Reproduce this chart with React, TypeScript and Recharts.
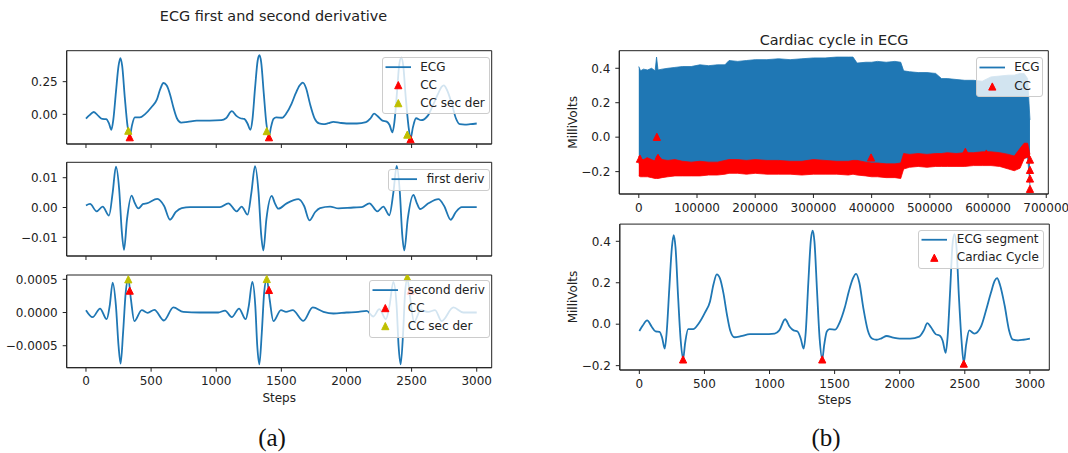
import React from 'react';
import { ComposedChart, Line, Area, Scatter, XAxis, YAxis, Legend, Label, ReferenceArea } from 'recharts';

// ---------------- DATA ----------------
// ECG segment (steps, millivolts)
const ecgX = [0,25,60,95,125,155,175,195,210,230,250,264,278,298,318,336,352,375,414,452,504,543,569,595,620,646,672,698,731,780,850,950,1040,1075,1120,1155,1185,1215,1240,1262,1278,1298,1318,1332,1345,1365,1385,1405,1420,1440,1461,1505,1540,1578,1610,1640,1665,1690,1720,1755,1790,1823,1860,1900,1950,2000,2080,2150,2185,2212,2240,2276,2309,2330,2353,2368,2388,2405,2420,2435,2455,2475,2492,2510,2534,2573,2625,2660,2700,2730,2748,2770,2806,2840,2870,2909,2950,3000];
const ecgY = [-0.033,-0.008,0.018,-0.012,-0.035,-0.037,-0.065,-0.118,-0.04,0.17,0.37,0.43,0.37,0.13,-0.08,-0.168,-0.09,-0.024,-0.024,0.0,0.056,0.11,0.19,0.24,0.22,0.15,0.05,-0.03,-0.063,-0.058,-0.048,-0.048,-0.045,-0.03,0.024,-0.012,-0.03,-0.035,-0.07,-0.118,-0.04,0.2,0.41,0.452,0.4,0.16,-0.07,-0.168,-0.1,-0.035,-0.024,-0.026,0.01,0.08,0.16,0.22,0.243,0.2,0.08,-0.03,-0.07,-0.075,-0.068,-0.057,-0.065,-0.07,-0.07,-0.06,-0.03,0.005,-0.015,-0.048,-0.056,-0.08,-0.138,-0.06,0.17,0.38,0.434,0.38,0.13,-0.08,-0.186,-0.1,-0.03,-0.045,-0.01,0.06,0.15,0.21,0.222,0.19,0.09,-0.03,-0.075,-0.078,-0.075,-0.07];

// first derivative
const d1X = [0,31,82,128,177,205,230,255,275,292,315,350,375,402,440,466,548,600,645,690,735,800,875,1029,1093,1157,1195,1241,1270,1298,1325,1345,1362,1385,1426,1450,1477,1541,1631,1675,1716,1760,1797,1874,1939,2053,2117,2176,2237,2283,2329,2360,2386,2410,2428,2444,2470,2514,2540,2565,2629,2706,2750,2800,2840,2885,3000];
const d1Y = [0.0007,0.0012,-0.0013,0.0003,-0.0027,0.005,0.0137,0.006,-0.008,-0.0142,-0.004,0.004,0.0015,-0.0003,0.0012,0.0014,0.0029,0.0005,-0.0041,-0.0015,-0.0002,0.0001,0.0001,0.0001,0.0014,-0.0013,0.0003,-0.0024,0.005,0.0139,0.005,-0.009,-0.0144,-0.004,0.0039,0.0015,-0.0004,0.0014,0.0028,0.0005,-0.0043,-0.0015,-0.0002,0.0003,-0.0003,0.0,0.0001,0.0014,-0.0013,0.0003,-0.0026,0.005,0.014,0.005,-0.009,-0.0144,-0.004,0.0042,0.0015,-0.0005,0.0014,0.0028,0.0005,-0.0041,-0.0015,0.0001,0.0001];

// second derivative
const d2X = [0,51,108,159,182,205,230,250,266,285,305,325,345,371,428,474,525,599,671,747,875,1016,1068,1119,1175,1226,1250,1277,1300,1315,1331,1350,1368,1388,1410,1439,1497,1536,1587,1669,1741,1823,1900,2000,2092,2155,2206,2252,2303,2330,2360,2385,2400,2416,2435,2450,2467,2490,2519,2570,2629,2680,2731,2821,2897,3000];
const d2Y = [0.000035,-0.00007,0.00006,-0.0001,0.0001,0.00045,0.0001,-0.0005,-0.00077,-0.0003,0.0003,0.00051,0.0002,-0.00013,0.000035,-0.000005,0.00004,-0.00012,0.000076,0.00001,0.0,0.0,0.00003,-0.00007,0.00006,-0.0001,0.0001,0.00046,0.0001,-0.0005,-0.00078,-0.0003,0.0003,0.00051,0.0002,-0.00013,0.000035,0.00001,0.000035,-0.000126,0.000076,0.00001,-0.000015,0.0,0.00001,0.000025,-0.00006,0.00005,-0.0001,0.0001,0.00046,0.0001,-0.0005,-0.00078,-0.0003,0.0003,0.00051,0.0002,-0.00014,0.000035,0.00001,0.000035,-0.00013,0.000076,0.0,0.0];

// cardiac cycle markers
const ccX = [336, 1405, 2492];
const ccEcgY = [-0.175, -0.175, -0.19];
const secX = [325, 1388, 2467];
const secEcgY = [-0.125, -0.128, -0.155];
const ccD2Y = [0.00033, 0.00034, 0.00033];
const secD2Y = [0.0005, 0.000505, 0.00053];
const cycleY = [-0.17, -0.17, -0.19];

// full recording (envelope of the dense ECG trace and of the CC marker band)
const fullX = [0,3000,8000,15000,22000,28000,30500,33000,40000,50000,62000,75000,90000,105000,120000,135000,148000,155000,170000,185000,200000,220000,240000,260000,280000,300000,320000,340000,360000,368000,375000,390000,400000,410000,425000,440000,450000,455000,465000,480000,495000,510000,520000,530000,545000,560000,575000,590000,605000,620000,635000,645000,655000,662000,668000,672000];
const ecgHi = [0.41,0.385,0.395,0.39,0.4,0.385,0.465,0.39,0.395,0.4,0.405,0.41,0.41,0.42,0.415,0.42,0.42,0.445,0.44,0.445,0.45,0.45,0.455,0.45,0.455,0.46,0.46,0.465,0.465,0.465,0.43,0.435,0.435,0.44,0.435,0.44,0.435,0.385,0.38,0.375,0.375,0.37,0.34,0.34,0.335,0.33,0.33,0.325,0.35,0.355,0.36,0.36,0.37,0.37,0.34,0.1];
const ecgLo = [-0.15,-0.17,-0.17,-0.17,-0.17,-0.17,-0.17,-0.17,-0.17,-0.17,-0.17,-0.17,-0.17,-0.17,-0.17,-0.17,-0.17,-0.17,-0.17,-0.17,-0.17,-0.17,-0.17,-0.17,-0.17,-0.17,-0.17,-0.17,-0.17,-0.17,-0.17,-0.17,-0.17,-0.17,-0.17,-0.17,-0.17,-0.15,-0.15,-0.15,-0.15,-0.15,-0.15,-0.15,-0.15,-0.15,-0.15,-0.15,-0.15,-0.15,-0.16,-0.17,-0.15,-0.12,-0.12,-0.28];
const ccHi = [-0.11,-0.13,-0.13,-0.12,-0.13,-0.14,-0.11,-0.105,-0.13,-0.135,-0.13,-0.14,-0.145,-0.14,-0.145,-0.145,-0.135,-0.13,-0.13,-0.135,-0.13,-0.135,-0.135,-0.14,-0.14,-0.13,-0.135,-0.14,-0.14,-0.135,-0.135,-0.145,-0.15,-0.15,-0.155,-0.155,-0.15,-0.095,-0.1,-0.095,-0.1,-0.095,-0.095,-0.09,-0.095,-0.09,-0.09,-0.085,-0.085,-0.09,-0.1,-0.11,-0.065,-0.035,-0.035,-0.1];
const ccLo = [-0.225,-0.23,-0.23,-0.23,-0.235,-0.24,-0.24,-0.24,-0.235,-0.23,-0.225,-0.225,-0.225,-0.225,-0.22,-0.22,-0.215,-0.21,-0.21,-0.215,-0.21,-0.215,-0.215,-0.215,-0.22,-0.215,-0.215,-0.215,-0.22,-0.215,-0.22,-0.225,-0.23,-0.23,-0.235,-0.235,-0.24,-0.185,-0.175,-0.17,-0.175,-0.17,-0.17,-0.17,-0.17,-0.17,-0.165,-0.165,-0.165,-0.17,-0.185,-0.195,-0.18,-0.125,-0.115,-0.145];
const ccOutX = [2000, 14000, 31000, 33000, 399000, 561000, 597000, 664000, 672000, 672000, 672000, 672000];
const ccOutY = [-0.125, -0.14, 0.002, -0.12, -0.118, -0.085, -0.095, -0.055, -0.13, -0.19, -0.24, -0.3];

const stepTicks = [0, 500, 1000, 1500, 2000, 2500, 3000];
const fullTicks = [0, 100000, 200000, 300000, 400000, 500000, 600000, 700000];
const ticksA1 = [0, 0.25];
const ticksA2 = [-0.01, 0, 0.01];
const ticksA3 = [-0.0005, 0, 0.0005];
const ticksB = [-0.2, 0, 0.2, 0.4];

// ---------------- STYLE ----------------
const BLUE = '#1f77b4';
const RED = '#ff0000';
const YEL = '#bfbf00';
const AX = '#222222';
const TXT = '#222222';
const FONT = '"DejaVu Sans", sans-serif';
const SERIF = '"Liberation Serif", "DejaVu Serif", serif';
const tickStyle = { fontSize: 12, fill: TXT, fontFamily: FONT };

const zip = (xs: number[], ys: number[]) => xs.map((x, i) => ({ x, y: ys[i] }));
const ecgRows = zip(ecgX, ecgY);
const d1Rows = zip(d1X, d1Y);
const d2Rows = zip(d2X, d2Y);
const fullRows = fullX.map((x, i) => ({ x, ecg: [ecgLo[i], ecgHi[i]], cc: [ccLo[i], ccHi[i]] }));

const minus = (s: string) => s.replace('-', '\u2212');
const fmt = (d: number) => (v: number) => minus(Number(v).toFixed(d));
const blank = () => '';

const tri = (color: string) => (p: any) => {
  const { cx, cy } = p;
  if (cx == null || cy == null || isNaN(cx) || isNaN(cy)) return <g />;
  const s = 7.2;
  return (
    <polygon
      points={`${cx},${cy - s / 2} ${cx - s / 2},${cy + s / 2} ${cx + s / 2},${cy + s / 2}`}
      fill={color}
      stroke={color}
      strokeWidth={1}
    />
  );
};

type LegItem = { kind: 'line' | 'tri'; color: string; label: string };

function LegendBox({ items, w, h, rowH }: { items: LegItem[]; w: number; h: number; rowH: number }) {
  return (
    <div
      style={{
        width: w,
        height: h,
        boxSizing: 'border-box',
        border: '1px solid #cccccc',
        borderRadius: 3,
        background: 'rgba(255,255,255,0.8)',
        fontFamily: FONT,
        fontSize: 12,
        color: TXT,
        paddingTop: 0,
      }}
    >
      {items.map((it, i) => (
        <div key={i} style={{ display: 'flex', alignItems: 'center', height: rowH, whiteSpace: 'nowrap' }}>
          <svg width={37.5} height={rowH} style={{ flex: 'none', display: 'block' }}>
            {it.kind === 'line' ? (
              <line x1={2.5} x2={28} y1={rowH / 2} y2={rowH / 2} stroke={it.color} strokeWidth={1.8} />
            ) : (
              <polygon
                points={`${15.3},${rowH / 2 - 3.6} ${15.3 - 3.6},${rowH / 2 + 3.6} ${15.3 + 3.6},${rowH / 2 + 3.6}`}
                fill={it.color}
                stroke={it.color}
                strokeWidth={1}
              />
            )}
          </svg>
          <span style={{ lineHeight: `${rowH}px` }}>{it.label}</span>
        </div>
      ))}
    </div>
  );
}

function legendEl(items: LegItem[], left: number, top: number, w: number, h: number, rowH: number) {
  return (
    <Legend
      layout="horizontal"
      verticalAlign="middle"
      align="center"
      content={() => <LegendBox items={items} w={w} h={h} rowH={rowH} />}
      wrapperStyle={{ position: 'absolute', left, top, width: w, height: h, margin: 0, padding: 0 }}
    />
  );
}

// plot frame (matplotlib spines) drawn over the full axis domain
function frame(xd: number[], yd: number[]) {
  return (
    <ReferenceArea
      x1={xd[0]}
      x2={xd[1]}
      y1={yd[0]}
      y2={yd[1]}
      fill="none"
      fillOpacity={0}
      stroke={AX}
      strokeWidth={1}
      ifOverflow="visible"
    />
  );
}

const stepsLabel = (dy: number) => (p: any) => {
  const vb = p.viewBox || {};
  return (
    <text x={vb.x + vb.width / 2} y={vb.y + dy} textAnchor="middle" style={{ fontSize: 12, fill: TXT, fontFamily: FONT }}>
      Steps
    </text>
  );
};
const mvLabel = (dx: number) => (p: any) => {
  const vb = p.viewBox || {};
  const x = vb.x + dx;
  const y = vb.y + vb.height / 2;
  return (
    <text x={x} y={y} textAnchor="middle" transform={`rotate(-90, ${x}, ${y})`} style={{ fontSize: 12, fill: TXT, fontFamily: FONT }}>
      MilliVolts
    </text>
  );
};

const XD_A = [-148, 3115];
const YD_A1 = [-0.227, 0.487];
const YD_A2 = [-0.01627, 0.01517];
const YD_A3 = [-0.000831, 0.000565];
const XD_BT = [-33500, 703500];
const YD_BT = [-0.33, 0.502];
const XD_BB = [-150, 3149];
const YD_BB = [-0.221, 0.483];

const lineProps = { dot: false, activeDot: false, isAnimationActive: false, stroke: BLUE, strokeWidth: 1.8, type: 'monotone' as const };

export default function App() {
  return (
    <div style={{ position: 'absolute', left: 0, top: 0, width: 1068, height: 453, background: '#ffffff', overflow: 'hidden' }}>
      <svg width={1068} height={453} style={{ position: 'absolute', left: 0, top: 0 }}>
        <text x={273.5} y={20.5} textAnchor="middle" style={{ fontSize: 14.4, fill: TXT, fontFamily: FONT }}>
          ECG first and second derivative
        </text>
        <text x={834} y={44.5} textAnchor="middle" style={{ fontSize: 14.4, fill: TXT, fontFamily: FONT }}>
          Cardiac cycle in ECG
        </text>
        <text x={272} y={446} textAnchor="middle" style={{ fontSize: 25, fill: '#111', fontFamily: SERIF }}>
          (a)
        </text>
        <text x={826} y={446} textAnchor="middle" style={{ fontSize: 25, fill: '#111', fontFamily: SERIF }}>
          (b)
        </text>
      </svg>

      {/* a1: ECG */}
      <div style={{ position: 'absolute', left: 0, top: 40 }}>
        <ComposedChart width={510} height={125} data={ecgRows} margin={{ top: 10.7, right: 18.3, bottom: 0, left: 0 }}>
          <XAxis type="number" dataKey="x" domain={XD_A} allowDataOverflow ticks={stepTicks} interval={0} height={21} tickSize={4} tickMargin={5} tickFormatter={blank} tick={tickStyle} axisLine={{ stroke: AX }} tickLine={{ stroke: AX }} />
          <YAxis type="number" dataKey="y" domain={YD_A1} allowDataOverflow ticks={ticksA1} interval={0} width={66.7} tickSize={4} tickMargin={5} tickFormatter={fmt(2)} tick={tickStyle} axisLine={{ stroke: AX }} tickLine={{ stroke: AX }} />
          <Line dataKey="y" {...lineProps} />
          <Scatter data={zip(ccX, ccEcgY)} fill={RED} shape={tri(RED)} isAnimationActive={false} />
          <Scatter data={zip(secX, secEcgY)} fill={YEL} shape={tri(YEL)} isAnimationActive={false} />
          {frame(XD_A, YD_A1)}
          {legendEl(
            [
              { kind: 'line', color: BLUE, label: 'ECG' },
              { kind: 'tri', color: RED, label: 'CC' },
              { kind: 'tri', color: YEL, label: 'CC sec der' },
            ],
            381.7, 16.7, 108.3, 57.6, 18.3,
          )}
        </ComposedChart>
      </div>

      {/* a2: first derivative */}
      <div style={{ position: 'absolute', left: 0, top: 152 }}>
        <ComposedChart width={510} height={125} data={d1Rows} margin={{ top: 10.3, right: 18.3, bottom: 0, left: 0 }}>
          <XAxis type="number" dataKey="x" domain={XD_A} allowDataOverflow ticks={stepTicks} interval={0} height={21} tickSize={4} tickMargin={5} tickFormatter={blank} tick={tickStyle} axisLine={{ stroke: AX }} tickLine={{ stroke: AX }} />
          <YAxis type="number" dataKey="y" domain={YD_A2} allowDataOverflow ticks={ticksA2} interval={0} width={66.7} tickSize={4} tickMargin={5} tickFormatter={fmt(2)} tick={tickStyle} axisLine={{ stroke: AX }} tickLine={{ stroke: AX }} />
          <Line dataKey="y" {...lineProps} />
          {frame(XD_A, YD_A2)}
          {legendEl([{ kind: 'line', color: BLUE, label: 'first deriv' }], 388.3, 17, 101.7, 21.7, 18.3)}
        </ComposedChart>
      </div>

      {/* a3: second derivative */}
      <div style={{ position: 'absolute', left: 0, top: 265 }}>
        <ComposedChart width={510} height={150} data={d2Rows} margin={{ top: 10, right: 18.3, bottom: 0, left: 0 }}>
          <XAxis type="number" dataKey="x" domain={XD_A} allowDataOverflow ticks={stepTicks} interval={0} height={47.3} tickSize={4} tickMargin={5} tick={tickStyle} axisLine={{ stroke: AX }} tickLine={{ stroke: AX }}>
            <Label content={stepsLabel(34.3)} />
          </XAxis>
          <YAxis type="number" dataKey="y" domain={YD_A3} allowDataOverflow ticks={ticksA3} interval={0} width={66.7} tickSize={4} tickMargin={5} tickFormatter={fmt(4)} tick={tickStyle} axisLine={{ stroke: AX }} tickLine={{ stroke: AX }} />
          <Line dataKey="y" {...lineProps} />
          <Scatter data={zip(ccX, ccD2Y)} fill={RED} shape={tri(RED)} isAnimationActive={false} />
          <Scatter data={zip(secX, secD2Y)} fill={YEL} shape={tri(YEL)} isAnimationActive={false} />
          {frame(XD_A, YD_A3)}
          {legendEl(
            [
              { kind: 'line', color: BLUE, label: 'second deriv' },
              { kind: 'tri', color: RED, label: 'CC' },
              { kind: 'tri', color: YEL, label: 'CC sec der' },
            ],
            369.3, 15, 120.7, 58.3, 18.2,
          )}
        </ComposedChart>
      </div>

      {/* b top: full recording */}
      <div style={{ position: 'absolute', left: 555, top: 30 }}>
        <ComposedChart width={513} height={195} data={fullRows} margin={{ top: 20.7, right: 19.7, bottom: 0, left: 0 }}>
          <XAxis type="number" dataKey="x" domain={XD_BT} allowDataOverflow ticks={fullTicks} interval={0} height={31} tickSize={4} tickMargin={5} tick={tickStyle} axisLine={{ stroke: AX }} tickLine={{ stroke: AX }} />
          <YAxis type="number" dataKey="y" domain={YD_BT} allowDataOverflow ticks={ticksB} interval={0} width={64.3} tickSize={4} tickMargin={5} tickFormatter={fmt(1)} tick={tickStyle} axisLine={{ stroke: AX }} tickLine={{ stroke: AX }}>
            <Label content={mvLabel(22)} />
          </YAxis>
          <Area dataKey="ecg" type="linear" stroke={BLUE} strokeWidth={0.8} fill={BLUE} fillOpacity={1} dot={false} activeDot={false} isAnimationActive={false} />
          <Area dataKey="cc" type="linear" stroke={RED} strokeWidth={0.8} fill={RED} fillOpacity={1} dot={false} activeDot={false} isAnimationActive={false} />
          <Scatter data={zip(ccOutX, ccOutY)} fill={RED} shape={tri(RED)} isAnimationActive={false} />
          {frame(XD_BT, YD_BT)}
          {legendEl(
            [
              { kind: 'line', color: BLUE, label: 'ECG' },
              { kind: 'tri', color: RED, label: 'CC' },
            ],
            420.7, 26.7, 67.6, 40, 19,
          )}
        </ComposedChart>
      </div>

      {/* b bottom: ECG segment */}
      <div style={{ position: 'absolute', left: 555, top: 214 }}>
        <ComposedChart width={513} height={201} data={ecgRows} margin={{ top: 10.1, right: 18.7, bottom: 0, left: 0 }}>
          <XAxis type="number" dataKey="x" domain={XD_BB} allowDataOverflow ticks={stepTicks} interval={0} height={45} tickSize={4} tickMargin={5} tick={tickStyle} axisLine={{ stroke: AX }} tickLine={{ stroke: AX }}>
            <Label content={stepsLabel(34)} />
          </XAxis>
          <YAxis type="number" dataKey="y" domain={YD_BB} allowDataOverflow ticks={ticksB} interval={0} width={64.8} tickSize={4} tickMargin={5} tickFormatter={fmt(1)} tick={tickStyle} axisLine={{ stroke: AX }} tickLine={{ stroke: AX }}>
            <Label content={mvLabel(22)} />
          </YAxis>
          <Line dataKey="y" {...lineProps} />
          <Scatter data={zip(ccX, cycleY)} fill={RED} shape={tri(RED)} isAnimationActive={false} />
          {frame(XD_BB, YD_BB)}
          {legendEl(
            [
              { kind: 'line', color: BLUE, label: 'ECG segment' },
              { kind: 'tri', color: RED, label: 'Cardiac Cycle' },
            ],
            363.3, 16, 125.7, 39.3, 17.5,
          )}
        </ComposedChart>
      </div>
    </div>
  );
}
